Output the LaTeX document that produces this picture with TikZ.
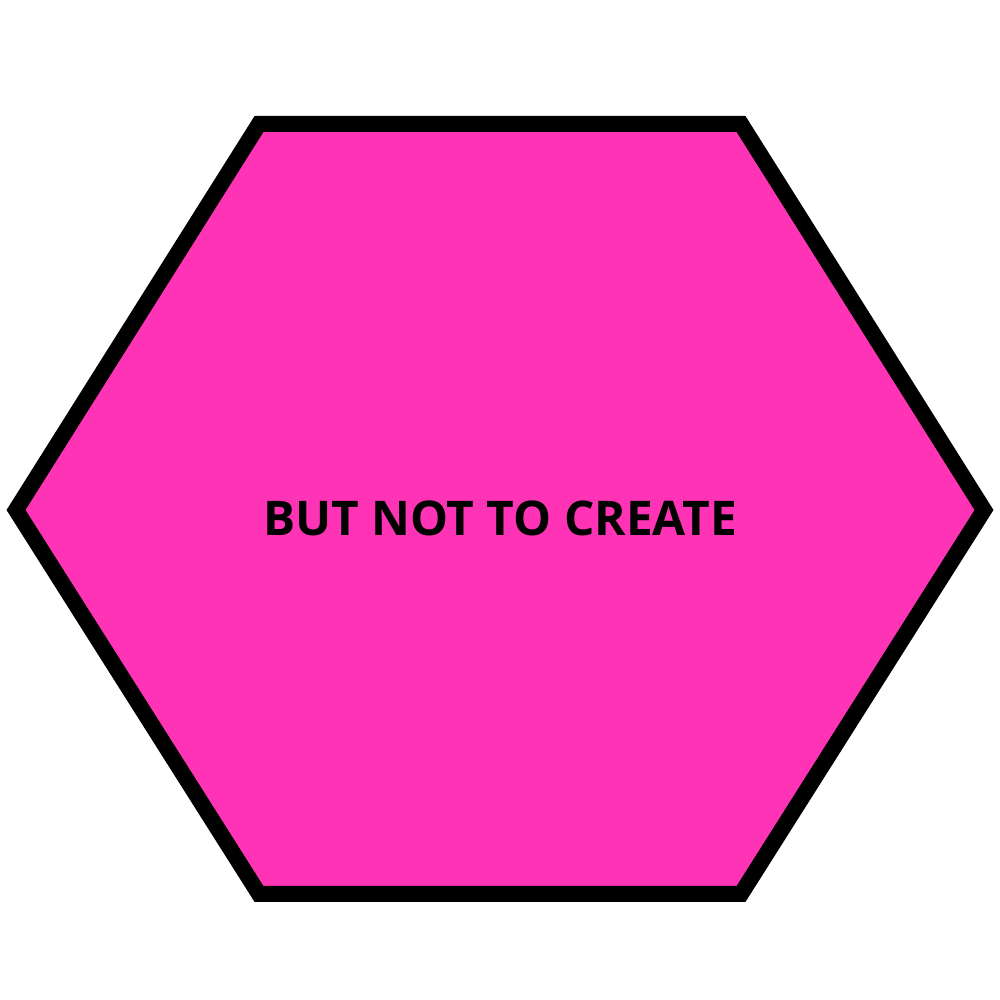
\documentclass[tikz,border=0pt]{standalone}
\usepackage{fontspec}
\setmainfont{Open Sans}
\definecolor{hexpink}{HTML}{FF33B5}
\tikzset{hexshape/.style={draw=black,fill=hexpink,line width=0.16cm,line join=miter},
  hexlabel/.style={font=\fontsize{13.6pt}{16pt}\selectfont\bfseries,text=black,inner sep=0pt}}
\begin{document}
\begin{tikzpicture}
\useasboundingbox (0,0) rectangle (10,10);
\coordinate (v1) at (2.59,8.76);
\coordinate (v2) at (7.41,8.76);
\coordinate (v3) at (9.84,4.90);
\coordinate (v4) at (7.41,1.06);
\coordinate (v5) at (2.59,1.06);
\coordinate (v6) at (0.16,4.90);
\draw[hexshape] (v1) -- (v2) -- (v3) -- (v4) -- (v5) -- (v6) -- cycle;
\node[hexlabel] (lbl) at (5.00,4.82) {BUT NOT TO CREATE};
\end{tikzpicture}
\end{document}
